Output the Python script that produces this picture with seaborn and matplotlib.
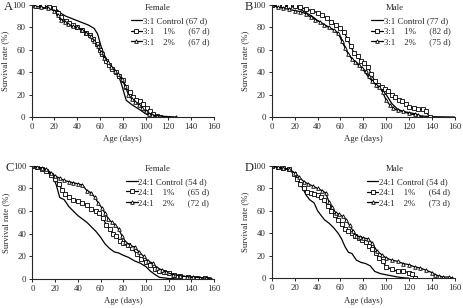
import numpy as np
import pandas as pd
import seaborn as sns
import matplotlib.pyplot as plt

sns.set_style('ticks')
plt.rcParams['font.family'] = ['Liberation Serif', 'DejaVu Serif']

# ---- panel A : 3:1 female ----
a_ctrl_x = [0, 10, 20, 25, 30, 35, 40, 45, 50, 55, 58, 61, 64, 68, 72, 76, 79, 83, 88, 95, 100, 104, 110, 120]
a_ctrl_y = [100, 99, 98, 93, 90, 88, 86, 84, 82, 79, 74, 63, 55, 48, 43, 38, 29, 15, 11, 6.5, 3, 1, 0.5, 0]
a_1_x = [0, 5, 10, 15, 20, 23, 26, 30, 33, 36, 40, 44, 48, 51, 54, 57, 60, 62, 65, 68, 71, 74, 77, 80, 83, 86, 89, 92, 95, 98, 101, 104, 107, 110, 113]
a_1_y = [100, 99, 99, 98, 97, 93, 89, 86, 84, 82, 80, 78, 75, 73, 70, 65, 60, 56, 50, 46, 43, 40, 37, 33, 27, 22, 18, 15, 14, 12, 8, 5, 3, 1, 0]
a_2_x = [0, 3, 8, 14, 20, 23, 26, 29, 32, 36, 40, 44, 48, 52, 55, 58, 61, 64, 67, 70, 73, 76, 79, 82, 85, 88, 91, 94, 97, 100, 103, 106, 110, 127]
a_2_y = [100, 99, 98, 97, 95, 91, 87, 85, 83, 81, 80, 78, 75, 72, 68, 63, 58, 53, 49, 45, 41, 38, 34, 28, 20, 16, 13, 11, 8, 5, 3, 2, 1, 0]

# ---- panel B : 3:1 male ----
b_ctrl_x = [0, 10, 20, 25, 30, 35, 40, 45, 50, 55, 60, 63, 66, 70, 75, 80, 85, 90, 95, 100, 105, 110, 115, 120, 125, 130, 140, 160]
b_ctrl_y = [100, 99, 98, 96, 93, 90, 86, 83, 80, 77, 72, 65, 58, 52, 48, 42, 35, 30, 26, 20, 12, 7, 5, 3, 2, 1, 0.3, 0]
b_1_x = [0, 5, 10, 15, 20, 25, 30, 35, 40, 44, 48, 52, 56, 60, 63, 66, 69, 72, 75, 78, 81, 84, 87, 90, 93, 96, 99, 102, 105, 108, 111, 114, 117, 120, 124, 128, 132, 135, 138]
b_1_y = [100, 100, 100, 99, 99, 98, 96, 95, 93, 91, 88, 85, 82, 79, 76, 70, 63, 57, 54, 50, 48, 45, 38, 32, 29, 27, 25, 23, 20, 18, 15, 14, 12, 9, 8, 7, 7, 5, 0]
b_2_x = [0, 5, 10, 15, 20, 25, 30, 34, 38, 42, 46, 50, 54, 58, 61, 64, 67, 70, 73, 76, 79, 82, 85, 88, 91, 94, 97, 100, 103, 106, 110, 115, 120, 125, 128, 131]
b_2_y = [100, 98, 97, 96, 95, 94, 92, 89, 87, 85, 82, 80, 78, 75, 68, 62, 56, 52, 49, 46, 44, 41, 37, 32, 29, 27, 22, 15, 11, 8, 6, 5, 4, 3, 2, 0]

# ---- panel C : 24:1 female ----
c_ctrl_x = [0, 5, 10, 15, 18, 21, 24, 28, 32, 36, 40, 44, 48, 52, 56, 60, 64, 68, 72, 76, 80, 85, 90, 95, 100, 104, 108, 112, 120, 130]
c_ctrl_y = [100, 98, 97, 94, 90, 83, 72, 70, 64, 60, 56, 53, 50, 46, 42, 37, 31, 27, 24, 23, 21, 19, 16, 14, 11, 7, 4, 1.5, 0.5, 0]
c_1_x = [0, 4, 8, 12, 16, 20, 23, 26, 29, 32, 36, 40, 44, 48, 52, 56, 59, 62, 65, 68, 71, 74, 77, 80, 84, 88, 92, 96, 100, 104, 108, 112, 116, 120, 125, 130, 137, 145, 152, 155]
c_1_y = [100, 99, 97, 95, 92, 88, 84, 79, 75, 72, 70, 69, 67, 65, 62, 60, 58, 54, 48, 44, 40, 38, 34, 32, 30, 27, 22, 18, 15, 12, 9, 7, 6, 5, 4, 3, 2, 1, 1, 0]
c_2_x = [0, 4, 8, 12, 16, 20, 24, 28, 32, 36, 40, 44, 48, 52, 55, 58, 61, 64, 67, 70, 73, 76, 79, 82, 86, 90, 94, 98, 102, 106, 110, 114, 118, 124, 130, 136, 142, 148, 153, 157]
c_2_y = [100, 99, 98, 97, 94, 91, 89, 87, 86, 85, 84, 83, 78, 76, 72, 67, 63, 58, 53, 50, 48, 44, 38, 33, 30, 28, 24, 20, 16, 14, 10, 8, 6, 4, 3, 2, 2, 1, 1, 0]

# ---- panel D : 24:1 male ----
d_ctrl_x = [0, 5, 10, 15, 18, 21, 24, 27, 30, 33, 37, 40, 43, 46, 50, 54, 58, 61, 64, 67, 70, 74, 78, 82, 86, 90, 95, 100, 105, 110, 115, 120]
d_ctrl_y = [100, 99, 98, 97, 95, 91, 86, 80, 74, 70, 67, 60, 56, 52, 49, 45, 40, 35, 28, 23, 22, 16, 14, 13, 11, 6, 4, 3, 2, 1, 0.3, 0]
d_1_x = [0, 5, 10, 15, 19, 22, 25, 28, 31, 34, 37, 40, 43, 46, 49, 52, 55, 58, 61, 64, 67, 70, 73, 76, 79, 82, 85, 88, 91, 94, 97, 100, 105, 110, 115, 120, 123, 125]
d_1_y = [100, 99, 98, 97, 93, 88, 84, 80, 77, 76, 75, 74, 72, 70, 64, 60, 56, 52, 48, 44, 42, 40, 38, 36, 34, 32, 29, 26, 22, 18, 15, 10, 8, 6, 6, 5, 4, 0]
d_2_x = [0, 5, 10, 15, 20, 24, 28, 32, 36, 40, 44, 47, 50, 53, 56, 59, 62, 65, 68, 71, 74, 77, 80, 84, 88, 92, 96, 100, 105, 110, 115, 120, 125, 130, 135, 140, 143, 146, 150, 155, 158]
d_2_y = [100, 99, 98, 97, 94, 90, 86, 84, 82, 80, 78, 76, 68, 63, 58, 57, 55, 52, 47, 42, 38, 37, 36, 35, 31, 24, 21, 18, 16, 15, 13, 12, 10, 9, 7, 5, 3, 2, 1, 1, 0]

panels = [
    ('A', 'Female', '3:1', ['67', '67', '67'],
     [(a_ctrl_x, a_ctrl_y), (a_1_x, a_1_y), (a_2_x, a_2_y)]),
    ('B', 'Male', '3:1', ['77', '82', '75'],
     [(b_ctrl_x, b_ctrl_y), (b_1_x, b_1_y), (b_2_x, b_2_y)]),
    ('C', 'Female', '24:1', ['54', '65', '72'],
     [(c_ctrl_x, c_ctrl_y), (c_1_x, c_1_y), (c_2_x, c_2_y)]),
    ('D', 'Male', '24:1', ['54', '64', '73'],
     [(d_ctrl_x, d_ctrl_y), (d_1_x, d_1_y), (d_2_x, d_2_y)]),
]

fig = plt.figure(figsize=(4.64, 3.08), dpi=100)
boxes = [[0.068, 0.620, 0.393, 0.364],
         [0.586, 0.620, 0.394, 0.364],
         [0.070, 0.094, 0.391, 0.368],
         [0.586, 0.097, 0.394, 0.364]]

fs = 6.3
for box, (letter, sex, ratio, days, series) in zip(boxes, panels):
    ax = fig.add_axes(box)
    treats = ['Control', '1%', '2%']
    marks = ['', 's', '^']
    for (xs, ys), t, m, d in zip(series, treats, marks, days):
        df = pd.DataFrame({'age': xs, 'surv': ys})
        if t == 'Control':
            lab = f'{ratio} Control ({d} d)'
        else:
            lab = f'{ratio}    {t}      ({d} d)'
        sns.lineplot(data=df, x='age', y='surv', ax=ax, color='black',
                     lw=0.9, marker=m if m else None, ms=2.6, mfc='white',
                     mec='black', mew=0.6, estimator=None, label=lab)
    ax.set_xlim(0, 160)
    ax.set_ylim(0, 100)
    ax.set_xticks(np.arange(0, 161, 20))
    ax.set_yticks(np.arange(0, 101, 20))
    ax.tick_params(labelsize=fs, length=2.5, width=0.7, pad=2)
    for s in ['left', 'bottom']:
        ax.spines[s].set_linewidth(0.8)
    sns.despine(ax=ax)
    ax.set_xlabel('Age (days)', fontsize=fs, labelpad=3)
    ax.set_ylabel('Survival rate (%)', fontsize=fs, labelpad=2)
    ax.legend(loc='upper right', bbox_to_anchor=(1.0, 0.93), frameon=False,
              fontsize=fs, handlelength=1.3, handletextpad=0.1,
              labelspacing=0.25, borderaxespad=0.1)
    ax.text(0.62, 0.97, sex, transform=ax.transAxes, fontsize=fs,
            ha='left', va='center')
    ax.text(-0.15, 0.98, letter, transform=ax.transAxes, fontsize=9,
            ha='left', va='center')

fig.savefig('out.png', dpi=100)
